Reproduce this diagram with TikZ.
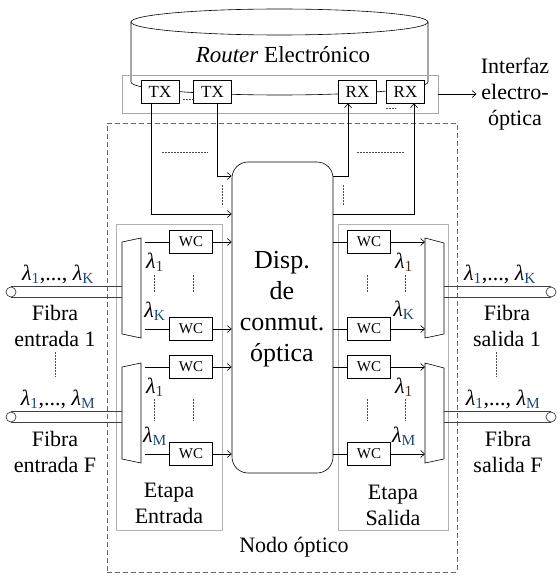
\documentclass[tikz,border=0pt]{standalone}
\usepackage{fontspec}
\setmainfont{Liberation Serif}
\usetikzlibrary{arrows.meta}
\definecolor{subblue}{RGB}{31,73,125}
\definecolor{subdark}{RGB}{64,48,32}
\newcommand{\lamb}[2][subblue]{\textit{λ}\textsubscript{\textcolor{#1}{#2}}}
\tikzset{
  >={Straight Barb[length=4pt,width=7pt]},
  txbox/.style={draw, fill=white, minimum width=38pt, minimum height=23pt,
    inner sep=0pt, font=\fontsize{17}{19}\selectfont},
  wcbox/.style={draw, fill=white, minimum width=43pt, minimum height=23pt,
    inner sep=0pt, font=\fontsize{15}{17}\selectfont},
  lbl/.style={font=\fontsize{22}{26}\selectfont, align=center, inner sep=0pt},
  stagebox/.style={draw=black!30, line width=0.8pt, minimum width=#1,
    minimum height=306pt, inner sep=0pt},
  dots/.style={dash pattern=on 1.5pt off 1.5pt, line width=0.6pt, black!70},
  conn/.style={->, line width=0.6pt},
  fib/.style={line width=0.7pt, black!75},
  fibend/.style={circle, draw=black!75, line width=0.7pt, minimum size=10pt, inner sep=0pt}
}
\begin{document}
\begin{tikzpicture}[x=1pt, y=-1pt, line width=0.6pt]
  \useasboundingbox (0,0) rectangle (557,575);

  % nodo optico y etapas
  \node[draw=black!60, line width=0.8pt, dash pattern=on 5pt off 3pt,
    minimum width=350pt, minimum height=449pt, inner sep=0pt] (nodo) at (282,347.5) {};
  \node[stagebox=106pt] (etE) at (169.5,377) {};
  \node[stagebox=110pt] (etS) at (393,377) {};
  \node[lbl] (etEtxt) at (169,503) {Etapa\\Entrada};
  \node[lbl] (etStxt) at (393,505) {Etapa\\Salida};
  \node[lbl] (nodotxt) at (294,547) {Nodo óptico};

  % router electronico
  \draw (279.5,22) ellipse [x radius=148.5, y radius=13];
  \draw (131,22) -- (131,82) arc[start angle=180, end angle=0, x radius=148.5, y radius=13] -- (428,22);
  \node[font=\fontsize{23}{27}\selectfont] (rtxt) at (283,55) {\textit{Router} Electrónico};

  % interfaz electro-optica
  \node[draw=black!35, line width=0.8pt, minimum width=316pt, minimum height=38pt,
    inner sep=0pt] (itf) at (280,94) {};
  \node[txbox] (tx1) at (160,91.5) {TX};
  \node[txbox] (tx2) at (212.5,91.5) {TX};
  \node[txbox] (rx1) at (357.5,91.5) {RX};
  \node[txbox] (rx2) at (405.5,91.5) {RX};
  \draw[dots] (183,99) -- (193,99);
  \draw[dots] (386,108) -- (396,108);
  \node[lbl] (itxt) at (515,94) {Interfaz\\electro-\\óptica};
  \draw[conn] (itf.east) -- ([xshift=-4pt]itxt.west);

  % conmutador
  \node[draw, rounded corners=16pt, minimum width=101pt, minimum height=311pt,
    inner sep=0pt] (sw) at (282.5,317.5) {};
  \node[font=\fontsize{26}{31}\selectfont, align=center] (swtxt) at (282,309)
    {Disp.\\de\\conmut.\\óptica};

  \coordinate (h1) at (0,176);
  \coordinate (h2) at (0,214);
  \draw[conn] ([xshift=4.5pt]tx2.south) |- (sw.west |- h1);
  \draw[conn] ([xshift=-9pt]tx1.south) |- (sw.west |- h2);
  \draw[conn] (sw.east |- h1) -| ([xshift=-9.5pt]rx1.south);
  \draw[conn] (sw.east |- h2) -| ([xshift=8.5pt]rx2.south);
  \draw[dots] (162,152) -- (208,152);
  \draw[dots] (357,152) -- (405,152);
  \draw[dots] (222,185) -- (222,205);
  \draw[dots] (343,185) -- (343,205);

  % demultiplexores y multiplexores
  \draw (122,242) -- (141,238) -- (141,338) -- (122,334) -- cycle;
  \draw (122,367) -- (141,363) -- (141,463) -- (122,459) -- cycle;
  \draw (425,238) -- (444,243) -- (444,334) -- (425,338) -- cycle;
  \draw (425,363) -- (444,368) -- (444,459) -- (425,463) -- cycle;
  \coordinate (dm1) at (122,292);
  \coordinate (dm2) at (122,417);
  \coordinate (mx1) at (444,292);
  \coordinate (mx2) at (444,417);
  \coordinate (mxw) at (425,0);

  \foreach \n/\y in {1/242,2/329,3/367,4/454}{
    \node[wcbox] (wcL\n) at (191,\y) {WC};
    \node[wcbox] (wcR\n) at (369,\y) {WC};
    \coordinate (dL\n) at (145,\y);
    \draw (dL\n) -- (wcL\n);
    \draw[conn] (wcL\n) -- (wcL\n -| sw.west);
    \draw (sw.east |- wcR\n) -- (wcR\n);
    \draw[conn] (wcR\n) -- (wcR\n -| mxw);
  }

  % longitudes de onda
  \node[lbl] (lL1) at (155,262) {\lamb[subdark]{1}};
  \node[lbl] (lLK) at (155,311) {\lamb{K}};
  \node[lbl] (lL2) at (155,387) {\lamb[subdark]{1}};
  \node[lbl] (lLM) at (155,436) {\lamb{M}};
  \node[lbl] (lR1) at (404,262) {\lamb[subdark]{1}};
  \node[lbl] (lRK) at (404,310) {\lamb{K}};
  \node[lbl] (lR2) at (404,387) {\lamb[subdark]{1}};
  \node[lbl] (lRM) at (404,436) {\lamb{M}};
  \foreach \x in {154,193,367,405}{
    \draw[dots] (\x,275) -- (\x,293);
    \draw[dots] (\x,399) -- (\x,421);
  }

  % fibras
  \node[fibend] (fin1) at (11,292) {};
  \node[fibend] (fin2) at (11,417) {};
  \node[fibend] (fout1) at (551,292) {};
  \node[fibend] (fout2) at (551,417) {};
  \draw[fib] (fin1.north) -- (fin1.north -| dm1);
  \draw[fib] (fin1.south) -- (fin1.south -| dm1);
  \draw[fib] (fin2.north) -- (fin2.north -| dm2);
  \draw[fib] (fin2.south) -- (fin2.south -| dm2);
  \draw[fib] (fout1.north) -- (fout1.north -| mx1);
  \draw[fib] (fout1.south) -- (fout1.south -| mx1);
  \draw[fib] (fout2.north) -- (fout2.north -| mx2);
  \draw[fib] (fout2.south) -- (fout2.south -| mx2);

  \node[lbl] (fl1) at (58,274) {\lamb{1},..., \lamb{K}};
  \node[lbl] (fl2) at (58,399) {\lamb{1},..., \lamb{M}};
  \node[lbl] (fr1) at (500,274) {\lamb{1},..., \lamb{K}};
  \node[lbl] (fr2) at (503,399) {\lamb{1},..., \lamb{M}};
  \node[lbl] (ein1) at (55,326) {Fibra\\entrada 1};
  \node[lbl] (einF) at (55,452) {Fibra\\entrada F};
  \node[lbl] (sal1) at (507,326) {Fibra\\salida 1};
  \node[lbl] (salF) at (508,452) {Fibra\\salida F};
  \draw[dots] (55,352) -- (55,377);
  \draw[dots] (496,352) -- (496,377);
\end{tikzpicture}
\end{document}
